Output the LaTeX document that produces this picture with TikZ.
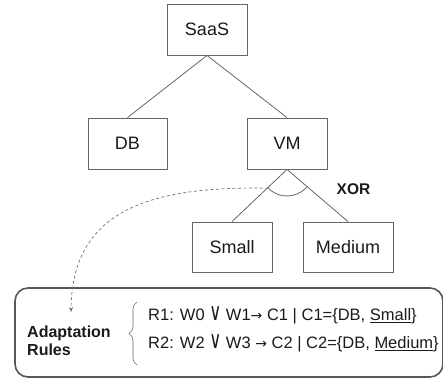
\documentclass[tikz,border=0pt]{standalone}
\usepackage{graphicx}
\usepackage{fontspec}
\setmainfont{Liberation Sans}
\newfontfamily\dejavu{DejaVu Sans}
\usetikzlibrary{decorations.pathreplacing,arrows.meta,calc}
\definecolor{linegray}{HTML}{666666}
\definecolor{dashgray}{HTML}{707070}
\definecolor{textblack}{HTML}{1A1A1A}
\newcommand{\myor}{\scalebox{1}[1.45]{\dejavu ∨}}
\newcommand{\myto}{{\dejavu\fontsize{14}{14}\selectfont →}}
\begin{document}
\begin{tikzpicture}[x=1pt,y=1pt,
  box/.style={draw=linegray, line width=0.9pt, minimum width=#1, minimum height=51pt,
    inner sep=0pt, font=\fontsize{18}{20}\selectfont, text=textblack},
  edge/.style={draw=linegray, line width=0.8pt},
  rule/.style={anchor=west, inner sep=0pt, font=\fontsize{16.5}{18}\selectfont, text=textblack},
  ortxt/.style={inner sep=0pt, font=\bfseries\fontsize{15.5}{17}\selectfont, text=textblack}]
\useasboundingbox (0,0) rectangle (443,-379);
\node[box=80pt] (saas) at (207,-29.5) {SaaS};
\node[box=79pt] (db) at (127.5,-143.5) {DB};
\node[box=80pt] (vm) at (287,-143.5) {VM};
\node[box=80pt, minimum height=50pt] (small) at (232,-247) {Small};
\node[box=90pt, minimum height=50pt] (medium) at (348,-247) {Medium};
\draw[edge] (saas.south) -- (db.north);
\draw[edge] (saas.south) -- (vm.north);
\draw[edge] (vm.south) -- (small.north);
\draw[edge] (vm.south) -- (medium.north);
\coordinate (xl) at ($(vm.south)+(225:26.5)$);
\draw[edge] (xl) arc[start angle=225, end angle=318, radius=26.5];
\node[ortxt] (xor) at (353.5,-189) {XOR};
\node[draw=linegray!85!black, line width=1.6pt, rounded corners=13pt, minimum width=428pt,
  minimum height=89pt, inner sep=0pt] (panel) at (229,-332.5) {};
\coordinate (tip) at (71,-312);
\draw[draw=dashgray, line width=0.7pt, dash pattern=on 3pt off 2.5pt,
  -{Stealth[length=5pt,width=4pt]}] (xl) .. controls (150,-186) and (72,-210) .. (tip);
\node[ortxt, anchor=west, align=left, font=\bfseries\fontsize{16}{18}\selectfont] (ar) at (27,-341) {Adaptation\\Rules};
\coordinate (bb) at (137,-365);
\coordinate (bt) at (137,-302);
\draw[draw=linegray, line width=0.6pt, decorate, decoration={brace, amplitude=8pt}] (bb) -- (bt);
\node[rule] (r1) at (148,-315) {R1: W0 \myor{} W1\myto{} C1 | C1=\{DB, \underline{Small}\}};
\node[rule] (r2) at (148,-343) {R2: W2 \myor{} W3 \myto{} C2 | C2=\{DB, \underline{Medium}\}};
\end{tikzpicture}
\end{document}
